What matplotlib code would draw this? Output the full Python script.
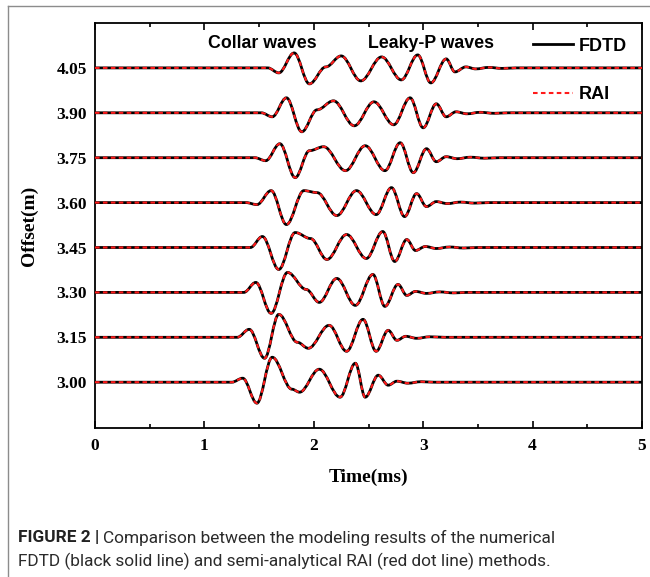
import matplotlib
matplotlib.use('Agg')
import matplotlib.pyplot as plt
from matplotlib.path import Path
from matplotlib.patches import PathPatch
from matplotlib.lines import Line2D
from matplotlib.ticker import MultipleLocator

# receiver offsets (m) and waveform extrema
offsets = [4.05, 3.90, 3.75, 3.60, 3.45, 3.30, 3.15, 3.00]
offset_labels = ['4.05', '3.90', '3.75', '3.60', '3.45', '3.30', '3.15', '3.00']

# knot times (ms) and amplitudes (arbitrary units) per trace
t_405 = [0, 1.58, 1.68, 1.82, 1.96, 2.11, 2.25, 2.43, 2.62, 2.80, 2.95, 3.07, 3.21, 3.29, 3.39, 3.48, 3.60, 3.72, 3.85, 5]
a_405 = [0, 0, -5, 15, -16, 1, 12, -13, 11, -12, 13, -15, 9, -4, 1, -1, 0.5, -0.5, 0, 0]
t_390 = [0, 1.52, 1.62, 1.75, 1.89, 2.03, 2.18, 2.37, 2.55, 2.73, 2.88, 3.00, 3.12, 3.21, 3.30, 3.40, 3.52, 3.65, 3.78, 5]
a_390 = [0, 0, -4, 15, -19, 3, 12, -13, 11, -12, 15, -15, 9, -4, 1, -1, 0.5, -0.5, 0, 0]
t_375 = [0, 1.46, 1.56, 1.69, 1.83, 1.96, 2.09, 2.29, 2.47, 2.65, 2.79, 2.91, 3.03, 3.12, 3.21, 3.31, 3.43, 3.56, 3.70, 5]
a_375 = [0, 0, -3, 14, -20, 7, 11, -13, 12, -13, 15, -15, 9, -4, 1, -1, 0.5, -0.5, 0, 0]
t_360 = [0, 1.38, 1.48, 1.61, 1.75, 1.91, 2.03, 2.21, 2.39, 2.57, 2.71, 2.83, 2.94, 3.03, 3.12, 3.22, 3.34, 3.47, 3.60, 5]
a_360 = [0, 0, -2, 12, -22, 12, 10, -13, 12, -12, 15, -14, 9, -4, 1, -1, 0.5, -0.5, 0, 0]
t_345 = [0, 1.42, 1.53, 1.68, 1.83, 1.97, 2.12, 2.30, 2.48, 2.63, 2.74, 2.85, 2.93, 3.02, 3.12, 3.24, 3.37, 3.50, 5]
a_345 = [0, 0, 11, -22, 15, 9, -12, 13, -11, 16, -14, 8, -3, 1, -1, 0.5, -0.5, 0, 0]
t_330 = [0, 1.36, 1.47, 1.61, 1.76, 1.93, 2.05, 2.21, 2.38, 2.54, 2.65, 2.77, 2.85, 2.93, 3.03, 3.15, 3.28, 3.40, 5]
a_330 = [0, 0, 10, -21, 20, 3, -10, 14, -13, 18, -14, 8, -3, 1, -1, 0.5, -0.5, 0, 0]
t_315 = [0, 1.30, 1.41, 1.55, 1.68, 1.85, 1.95, 2.14, 2.30, 2.45, 2.57, 2.68, 2.76, 2.84, 2.94, 3.06, 3.20, 5]
a_315 = [0, 0, 8, -21, 23, -5, -11, 12, -14, 18, -14, 7, -3, 1, -1, 0.5, 0, 0]
t_300 = [0, 1.25, 1.35, 1.48, 1.62, 1.80, 1.87, 2.05, 2.24, 2.38, 2.47, 2.59, 2.68, 2.76, 2.86, 2.98, 3.10, 5]
a_300 = [0, 0, 4, -21, 25, -7, -10, 13, -15, 19, -15, 7, -3, 1, -1, 0.5, 0, 0]

trace_times = [t_405, t_390, t_375, t_360, t_345, t_330, t_315, t_300]
trace_amps = [a_405, a_390, a_375, a_360, a_345, a_330, a_315, a_300]
gain = 1 / 300.0  # offset units per amplitude unit


def trace_path(times, amps, base):
    '''Smooth path through the extrema, flat tangent at every knot.'''
    verts = [(times[0], base + amps[0] * gain)]
    codes = [Path.MOVETO]
    for i in range(1, len(times)):
        t0, t1 = times[i - 1], times[i]
        y0 = base + amps[i - 1] * gain
        y1 = base + amps[i] * gain
        h = (t1 - t0) * 0.36
        verts += [(t0 + h, y0), (t1 - h, y1), (t1, y1)]
        codes += [Path.CURVE4] * 3
    return Path(verts, codes)


fig = plt.figure(figsize=(6.5, 5.77), dpi=100)
ax = fig.add_axes([95 / 650, 1 - 428 / 577, (642 - 95) / 650, (428 - 23) / 577])

for base, tt, aa in zip(offsets, trace_times, trace_amps):
    p = trace_path(tt, aa, base)
    ax.add_patch(PathPatch(p, fill=False, edgecolor='black', lw=2.0, zorder=2))
    ax.add_patch(PathPatch(p, fill=False, edgecolor='#ff1a1a', lw=1.5,
                           linestyle=(0, (2.2, 1.6)), capstyle='butt', zorder=3))

ax.set_xlim(0, 5)
ax.set_ylim(2.847, 4.20)

serif_bold = dict(family='Liberation Serif', weight='bold')
ax.set_xticks([0, 1, 2, 3, 4, 5])
ax.xaxis.set_minor_locator(MultipleLocator(0.5))
ax.set_yticks(offsets)
ax.set_yticklabels(offset_labels)
ax.tick_params(axis='x', which='both', direction='in', top=True, bottom=True, pad=7)
ax.tick_params(axis='x', which='major', length=5, width=1.2)
ax.tick_params(axis='x', which='minor', length=3, width=1.2)
ax.tick_params(axis='y', direction='in', length=3, width=1.2, pad=6)
for lab in ax.get_xticklabels() + ax.get_yticklabels():
    lab.set_fontfamily('Liberation Serif')
    lab.set_fontweight('bold')
    lab.set_fontsize(12.5)
for s in ax.spines.values():
    s.set_linewidth(1.3)

ax.set_xlabel('Time(ms)', fontsize=14, labelpad=11, **serif_bold)
ax.set_ylabel('Offset(m)', fontsize=14, labelpad=13, **serif_bold)

sans_bold = dict(family='Liberation Sans', weight='bold', fontsize=12.8)
ax.text(1.53, 4.133, 'Collar waves', ha='center', va='center', **sans_bold)
ax.text(3.07, 4.133, 'Leaky-P waves', ha='center', va='center', **sans_bold)

handles = [Line2D([], [], color='black', lw=2.0),
           Line2D([], [], color='#ff1a1a', lw=1.5, linestyle=(0, (2.2, 1.6)))]
ax.legend(handles, ['FDTD', 'RAI'], loc='upper right', bbox_to_anchor=(0.995, 0.995),
          frameon=False, handlelength=2.2, handletextpad=0.3, labelspacing=1.75,
          borderaxespad=0.3, prop=dict(family='Liberation Sans', weight='bold', size=13))

# gray frame around the figure panel
frame_kw = dict(color='#8c8c8c', lw=1.0, transform=fig.transFigure)
fig.add_artist(Line2D([8 / 650, 1.0], [1 - 6 / 577, 1 - 6 / 577], **frame_kw))
fig.add_artist(Line2D([8 / 650, 8 / 650], [0, 1 - 6 / 577], **frame_kw))

# caption
cap_font = ['Liberation Sans Narrow', 'Roboto']
cap_y1 = 1 - 538 / 577
cap_y2 = 1 - 561 / 577
head = fig.text(18 / 650, cap_y1, 'FIGURE 2 |', fontsize=12.4, fontweight='bold',
                family=cap_font, color='#222222', va='center')
plt.annotate('Comparison between the modeling results of the numerical',
             xy=(1, 0.5), xycoords=head, xytext=(3, 0), textcoords='offset points',
             fontsize=12.4, family=cap_font, color='#2b2b2b', va='center')
fig.text(18 / 650, cap_y2, 'FDTD (black solid line) and semi-analytical RAI (red dot line) methods.',
         fontsize=12.4, family=cap_font, color='#2b2b2b', va='center')

fig.savefig('out.png', dpi=100)
